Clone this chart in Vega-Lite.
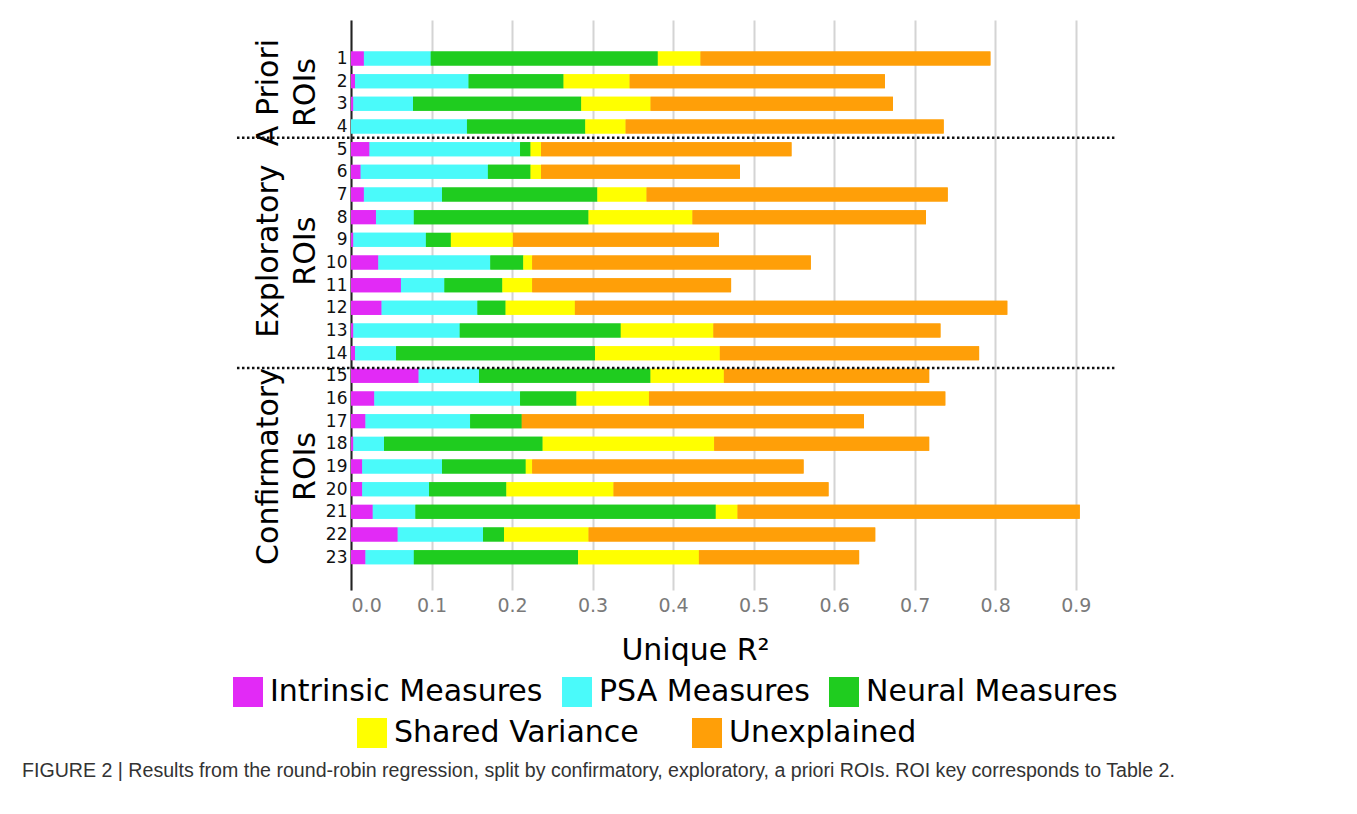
{
  "$schema": "https://vega.github.io/schema/vega-lite/v6.json",
  "width": 765,
  "height": 570,
  "autosize": {"type": "none"},
  "padding": {"left": 351, "top": 20, "right": 241, "bottom": 224},
  "background": "white",
  "title": {
    "text": "FIGURE 2 | Results from the round-robin regression, split by confirmatory, exploratory, a priori ROIs. ROI key corresponds to Table 2.",
    "orient": "bottom", "anchor": "start", "frame": "group", "dx": -329, "offset": 14,
    "font": "Liberation Sans", "fontSize": 19.6, "fontWeight": "normal", "color": "#333333"
  },
  "data": {"values": [
    {"roi": 1, "group": "A Priori\nROIs", "Intrinsic Measures": 0.016, "PSA Measures": 0.083, "Neural Measures": 0.282, "Shared Variance": 0.053, "Unexplained": 0.360},
    {"roi": 2, "group": "A Priori\nROIs", "Intrinsic Measures": 0.005, "PSA Measures": 0.141, "Neural Measures": 0.118, "Shared Variance": 0.082, "Unexplained": 0.317},
    {"roi": 3, "group": "A Priori\nROIs", "Intrinsic Measures": 0.003, "PSA Measures": 0.074, "Neural Measures": 0.209, "Shared Variance": 0.086, "Unexplained": 0.301},
    {"roi": 4, "group": "A Priori\nROIs", "Intrinsic Measures": 0.000, "PSA Measures": 0.144, "Neural Measures": 0.147, "Shared Variance": 0.050, "Unexplained": 0.395},
    {"roi": 5, "group": "Exploratory\nROIs", "Intrinsic Measures": 0.023, "PSA Measures": 0.187, "Neural Measures": 0.013, "Shared Variance": 0.013, "Unexplained": 0.311},
    {"roi": 6, "group": "Exploratory\nROIs", "Intrinsic Measures": 0.012, "PSA Measures": 0.158, "Neural Measures": 0.053, "Shared Variance": 0.013, "Unexplained": 0.247},
    {"roi": 7, "group": "Exploratory\nROIs", "Intrinsic Measures": 0.016, "PSA Measures": 0.097, "Neural Measures": 0.193, "Shared Variance": 0.061, "Unexplained": 0.374},
    {"roi": 8, "group": "Exploratory\nROIs", "Intrinsic Measures": 0.031, "PSA Measures": 0.047, "Neural Measures": 0.217, "Shared Variance": 0.129, "Unexplained": 0.290},
    {"roi": 9, "group": "Exploratory\nROIs", "Intrinsic Measures": 0.003, "PSA Measures": 0.090, "Neural Measures": 0.031, "Shared Variance": 0.077, "Unexplained": 0.256},
    {"roi": 10, "group": "Exploratory\nROIs", "Intrinsic Measures": 0.034, "PSA Measures": 0.139, "Neural Measures": 0.041, "Shared Variance": 0.011, "Unexplained": 0.346},
    {"roi": 11, "group": "Exploratory\nROIs", "Intrinsic Measures": 0.062, "PSA Measures": 0.054, "Neural Measures": 0.072, "Shared Variance": 0.037, "Unexplained": 0.247},
    {"roi": 12, "group": "Exploratory\nROIs", "Intrinsic Measures": 0.038, "PSA Measures": 0.119, "Neural Measures": 0.035, "Shared Variance": 0.086, "Unexplained": 0.537},
    {"roi": 13, "group": "Exploratory\nROIs", "Intrinsic Measures": 0.003, "PSA Measures": 0.132, "Neural Measures": 0.200, "Shared Variance": 0.115, "Unexplained": 0.282},
    {"roi": 14, "group": "Exploratory\nROIs", "Intrinsic Measures": 0.005, "PSA Measures": 0.051, "Neural Measures": 0.247, "Shared Variance": 0.155, "Unexplained": 0.322},
    {"roi": 15, "group": "Confirmatory\nROIs", "Intrinsic Measures": 0.084, "PSA Measures": 0.075, "Neural Measures": 0.213, "Shared Variance": 0.091, "Unexplained": 0.255},
    {"roi": 16, "group": "Confirmatory\nROIs", "Intrinsic Measures": 0.029, "PSA Measures": 0.181, "Neural Measures": 0.070, "Shared Variance": 0.090, "Unexplained": 0.368},
    {"roi": 17, "group": "Confirmatory\nROIs", "Intrinsic Measures": 0.018, "PSA Measures": 0.130, "Neural Measures": 0.064, "Shared Variance": 0.000, "Unexplained": 0.425},
    {"roi": 18, "group": "Confirmatory\nROIs", "Intrinsic Measures": 0.003, "PSA Measures": 0.038, "Neural Measures": 0.197, "Shared Variance": 0.213, "Unexplained": 0.267},
    {"roi": 19, "group": "Confirmatory\nROIs", "Intrinsic Measures": 0.014, "PSA Measures": 0.099, "Neural Measures": 0.104, "Shared Variance": 0.008, "Unexplained": 0.337},
    {"roi": 20, "group": "Confirmatory\nROIs", "Intrinsic Measures": 0.014, "PSA Measures": 0.083, "Neural Measures": 0.096, "Shared Variance": 0.133, "Unexplained": 0.267},
    {"roi": 21, "group": "Confirmatory\nROIs", "Intrinsic Measures": 0.027, "PSA Measures": 0.053, "Neural Measures": 0.373, "Shared Variance": 0.027, "Unexplained": 0.425},
    {"roi": 22, "group": "Confirmatory\nROIs", "Intrinsic Measures": 0.058, "PSA Measures": 0.106, "Neural Measures": 0.026, "Shared Variance": 0.105, "Unexplained": 0.356},
    {"roi": 23, "group": "Confirmatory\nROIs", "Intrinsic Measures": 0.018, "PSA Measures": 0.060, "Neural Measures": 0.204, "Shared Variance": 0.150, "Unexplained": 0.199}
  ]},
  "layer": [
    {
      "transform": [
        {"fold": ["Intrinsic Measures", "PSA Measures", "Neural Measures", "Shared Variance", "Unexplained"], "as": ["category", "value"]},
        {"calculate": "indexof(['Intrinsic Measures', 'PSA Measures', 'Neural Measures', 'Shared Variance', 'Unexplained'], datum.category)", "as": "stack_order"}
      ],
      "mark": {"type": "bar", "size": 14, "orient": "horizontal"},
      "encoding": {
        "x": {
          "field": "value", "type": "quantitative", "stack": "zero",
          "scale": {"domain": [0, 0.95], "nice": false},
          "axis": {
            "values": [0, 0.1, 0.2, 0.3, 0.4, 0.5, 0.6, 0.7, 0.8, 0.9], "format": ".1f", "tickCount": 30,
            "domain": false, "ticks": false, "grid": true, "gridColor": "#d4d4d4", "gridWidth": 2,
            "labelFontSize": 19, "labelColor": "#7a7a7a", "labelPadding": 6, "labelFont": "DejaVu Sans",
            "title": "Unique R²", "titleFontSize": 30, "titleFontWeight": "normal", "titleColor": "black",
            "titleFont": "DejaVu Sans", "titleX": 344, "titleY": 60, "titleBaseline": "middle"
          }
        },
        "y": {
          "field": "roi", "type": "quantitative",
          "scale": {"domain": [-0.7, 24.45], "reverse": true, "nice": false, "zero": false, "padding": 0},
          "axis": {
            "values": [1,2,3,4,5,6,7,8,9,10,11,12,13,14,15,16,17,18,19,20,21,22,23], "tickCount": 40, "format": "d",
            "title": null, "grid": false, "ticks": false, "domain": true, "domainColor": "#222222", "domainWidth": 2,
            "labelFontSize": 17, "labelColor": "#111111", "labelPadding": 4, "labelFont": "DejaVu Sans",
            "labelOverlap": false, "labelSeparation": 0
          }
        },
        "order": {"field": "stack_order", "type": "quantitative"},
        "color": {
          "field": "category", "type": "nominal",
          "sort": ["Intrinsic Measures", "PSA Measures", "Neural Measures", "Shared Variance", "Unexplained"],
          "scale": {
            "domain": ["Intrinsic Measures", "PSA Measures", "Neural Measures", "Shared Variance", "Unexplained"],
            "range": ["#E22AF6", "#4AFAFA", "#1FCC1F", "#FFFF00", "#FF9F08"]
          },
          "legend": {
            "orient": "none", "legendX": -118, "legendY": 657, "direction": "horizontal",
            "values": ["Intrinsic Measures", "PSA Measures", "Neural Measures"],
            "title": null, "symbolType": "square", "symbolSize": 900, "symbolStrokeWidth": 0, "symbolOpacity": 1,
            "labelFontSize": 30, "labelFont": "DejaVu Sans", "labelColor": "black", "labelOffset": 7,
            "columnPadding": 19, "labelLimit": 500
          }
        }
      }
    },
    {
      "transform": [
        {"fold": ["Intrinsic Measures", "PSA Measures", "Neural Measures", "Shared Variance", "Unexplained"], "as": ["category", "value"]},
        {"calculate": "indexof(['Intrinsic Measures', 'PSA Measures', 'Neural Measures', 'Shared Variance', 'Unexplained'], datum.category)", "as": "stack_order"}
      ],
      "mark": {"type": "bar", "size": 14, "orient": "horizontal"},
      "encoding": {
        "x": {"field": "value", "type": "quantitative", "stack": "zero"},
        "y": {"field": "roi", "type": "quantitative"},
        "order": {"field": "stack_order", "type": "quantitative"},
        "fill": {
          "field": "category", "type": "nominal",
          "sort": ["Intrinsic Measures", "PSA Measures", "Neural Measures", "Shared Variance", "Unexplained"],
          "scale": {
            "domain": ["Shared Variance", "Unexplained", "Intrinsic Measures", "PSA Measures", "Neural Measures"],
            "range": ["#FFFF00", "#FF9F08", "#E22AF6", "#4AFAFA", "#1FCC1F"]
          },
          "legend": {
            "orient": "none", "legendX": 6, "legendY": 698, "direction": "horizontal",
            "values": ["Shared Variance", "Unexplained"],
            "title": null, "symbolType": "square", "symbolSize": 900, "symbolStrokeWidth": 0, "symbolOpacity": 1,
            "labelFontSize": 30, "labelFont": "DejaVu Sans", "labelColor": "black", "labelOffset": 7,
            "columnPadding": 53, "labelLimit": 500
          }
        }
      }
    },
    {
      "transform": [{"aggregate": [{"op": "mean", "field": "roi", "as": "roi"}], "groupby": ["group"]}],
      "mark": {"type": "text", "angle": 270, "fontSize": 30, "lineHeight": 37, "lineBreak": "\n", "font": "DejaVu Sans", "align": "center", "baseline": "middle", "color": "black"},
      "encoding": {
        "y": {"field": "roi", "type": "quantitative"},
        "x": {"datum": -0.1024},
        "text": {"field": "group"}
      }
    },
    {
      "data": {"values": [{}]},
      "mark": {"type": "rule", "strokeDash": [2.5, 2.5], "strokeWidth": 2.5, "color": "#111111"},
      "encoding": {"y": {"datum": 4.5}, "x": {"datum": -0.1416}, "x2": {"datum": 0.948}}
    },
    {
      "data": {"values": [{}]},
      "mark": {"type": "rule", "strokeDash": [2.5, 2.5], "strokeWidth": 2.5, "color": "#111111"},
      "encoding": {"y": {"datum": 14.65}, "x": {"datum": -0.1416}, "x2": {"datum": 0.948}}
    }
  ],
  "config": {"view": {"stroke": null}, "font": "DejaVu Sans", "axisY": {"labelOverlap": false}, "axis": {"labelOverlap": false}}
}
